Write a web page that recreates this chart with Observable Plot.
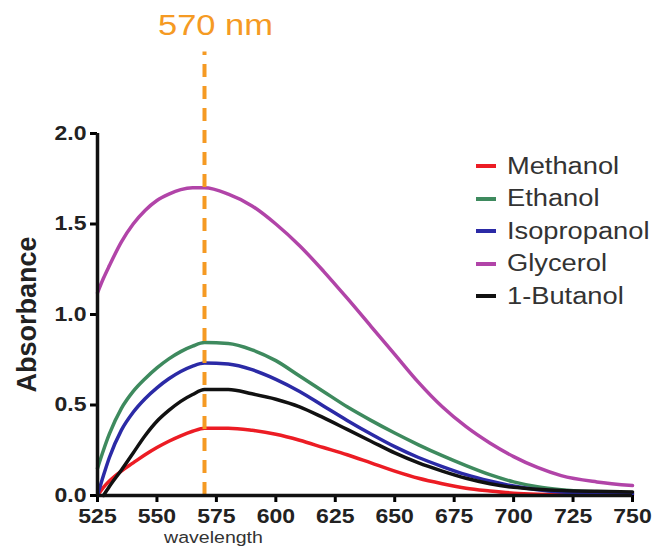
<!DOCTYPE html>
<html><head><meta charset="utf-8">
<script src="https://cdn.jsdelivr.net/npm/d3@7"></script>
<script src="https://cdn.jsdelivr.net/npm/@observablehq/plot@0.6"></script>
<style>
body{margin:0;background:#fff;}
#wrap{position:relative;width:656px;height:547px;overflow:hidden;font-family:"Liberation Sans",Arial,sans-serif;}
#legend{position:absolute;left:476px;top:150px;}
.item{display:flex;align-items:center;height:32.5px;font-size:23.5px;color:#333;white-space:nowrap;}
.sw{width:20px;height:4px;margin-right:11px;flex:none;}
.lt{display:inline-block;transform:scaleX(1.16);transform-origin:left center;}
</style></head><body><div id="wrap"><div id="legend"></div></div>
<script>
const wavelengths = [525, 527.5, 530, 535, 540, 545, 550, 555, 560, 565, 570, 580, 590, 600, 610, 620, 630, 640, 650, 660, 670, 680, 690, 700, 710, 720, 735, 750];
const methanol    = [0.0, 0.045, 0.08, 0.135, 0.18, 0.225, 0.265, 0.30, 0.33, 0.355, 0.372, 0.372, 0.36, 0.338, 0.305, 0.265, 0.225, 0.18, 0.135, 0.095, 0.065, 0.04, 0.025, 0.013, 0.007, 0.004, 0.003, 0.003];
const ethanol     = [0.15, 0.25, 0.34, 0.48, 0.575, 0.645, 0.705, 0.755, 0.795, 0.825, 0.845, 0.84, 0.805, 0.745, 0.66, 0.575, 0.49, 0.415, 0.345, 0.28, 0.22, 0.165, 0.115, 0.075, 0.048, 0.032, 0.02, 0.013];
const isopropanol = [0.0, 0.11, 0.21, 0.36, 0.46, 0.535, 0.595, 0.645, 0.685, 0.715, 0.732, 0.726, 0.695, 0.642, 0.575, 0.495, 0.415, 0.34, 0.27, 0.21, 0.16, 0.115, 0.08, 0.052, 0.032, 0.02, 0.012, 0.008];
const glycerol    = [1.12, 1.20, 1.27, 1.40, 1.50, 1.575, 1.63, 1.665, 1.69, 1.70, 1.70, 1.665, 1.60, 1.50, 1.38, 1.24, 1.09, 0.935, 0.78, 0.625, 0.49, 0.38, 0.29, 0.215, 0.155, 0.11, 0.075, 0.055];
const butanol     = [null, 0.0, 0.05, 0.14, 0.235, 0.33, 0.41, 0.47, 0.52, 0.558, 0.585, 0.586, 0.562, 0.532, 0.49, 0.43, 0.365, 0.30, 0.235, 0.18, 0.135, 0.095, 0.065, 0.045, 0.035, 0.028, 0.023, 0.02];

const seriesNames  = ["Methanol", "Ethanol", "Isopropanol", "Glycerol", "1-Butanol"];
const seriesColors = ["#ec1c24", "#3e8a5e", "#2b2aa6", "#b144a8", "#111111"];
const seriesValues = [methanol, ethanol, isopropanol, glycerol, butanol];
const drawOrder = ["Glycerol", "Methanol", "Ethanol", "Isopropanol", "1-Butanol"];

const xTicks = [525, 550, 575, 600, 625, 650, 675, 700, 725, 750];
const yTicks = [0, 0.5, 1.0, 1.5, 2.0];
const markerWavelength = [570];
const markerLabel = ["570 nm"];
const yLabel = ["Absorbance"];
const xLabel = ["wavelength"];

const rows = [];
for (const name of drawOrder) {
  const vals = seriesValues[seriesNames.indexOf(name)];
  wavelengths.forEach((w, i) => { if (vals[i] != null) rows.push({w, v: vals[i], name}); });
}

const font = "Liberation Sans, Arial, sans-serif";
const chart = Plot.plot({
  width: 656, height: 547,
  marginLeft: 97, marginRight: 24, marginTop: 133, marginBottom: 52,
  x: {domain: [525, 750]},
  y: {domain: [0, 2]},
  color: {domain: seriesNames, range: seriesColors},
  style: {fontFamily: font, background: "white", overflow: "visible"},
  marks: [
    Plot.line(rows, {x: "w", y: "v", z: "name", stroke: "name", strokeWidth: 3.5, curve: "monotone-x"}),
    Plot.ruleX(markerWavelength, {y1: 0, y2: 2.45, stroke: "#f59a23", strokeWidth: 4, strokeDasharray: "13,9"}),
    Plot.axisX({ticks: xTicks, tickSize: 7, strokeWidth: 3, tickPadding: 6, fontSize: 20, fontWeight: "bold", fill: "#222", label: null, tickFormat: d => String(d)}),
    Plot.axisY({ticks: yTicks, tickSize: 7, strokeWidth: 3, tickPadding: 4, fontSize: 20, fontWeight: "bold", fill: "#222", label: null, tickFormat: d3.format(".1f")}),
    Plot.ruleX([525], {y1: 0, y2: 2, strokeWidth: 3.5, stroke: "#111"}),
    Plot.ruleY([0], {x1: 525, x2: 750, strokeWidth: 3.5, stroke: "#111"}),
    Plot.text(markerLabel, {x: markerWavelength[0], y: 2.6, dx: 11, fontSize: 30, fill: "#f59a23", textAnchor: "middle", lineAnchor: "middle", className: "stretch"}),
    Plot.text(yLabel, {frameAnchor: "left", dx: -70, rotate: -90, fontSize: 27, fontWeight: "bold", fill: "#222", textAnchor: "middle", lineAnchor: "middle"}),
    Plot.text(xLabel, {frameAnchor: "bottom-left", dx: 116, dy: 42, fontSize: 17, fill: "#333", textAnchor: "middle", lineAnchor: "middle", className: "stretch"})
  ]
});
// widen the glyphs horizontally like the reference image
d3.select(chart).selectAll('g[aria-label="x-axis tick label"] text, g[aria-label="y-axis tick label"] text, g.stretch text')
  .each(function() {
    const t = this.getAttribute("transform") || "";
    this.setAttribute("transform", (t + " scale(1.15,1)").trim());
  });

const wrap = document.getElementById("wrap");
wrap.insertBefore(chart, wrap.firstChild);

const legend = document.getElementById("legend");
seriesNames.forEach((n, i) => {
  const it = document.createElement("div");
  it.className = "item";
  const sw = document.createElement("span");
  sw.className = "sw";
  sw.style.background = seriesColors[i];
  const t = document.createElement("span");
  t.className = "lt";
  t.textContent = n;
  it.appendChild(sw); it.appendChild(t);
  legend.appendChild(it);
});
</script></body></html>
